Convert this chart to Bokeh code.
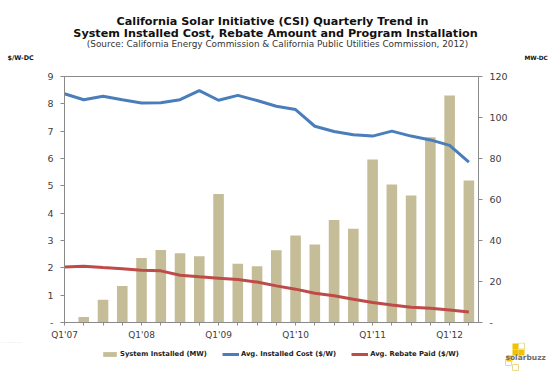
from bokeh.plotting import figure
from bokeh.layouts import column
from bokeh.models import (Range1d, LinearAxis, FixedTicker, Label, Legend, LegendItem,
                          ColumnDataSource)
from bokeh.embed import file_html
from bokeh.resources import INLINE

quarters = ["Q1'07", "Q2'07", "Q3'07", "Q4'07", "Q1'08", "Q2'08", "Q3'08", "Q4'08",
            "Q1'09", "Q2'09", "Q3'09", "Q4'09", "Q1'10", "Q2'10", "Q3'10", "Q4'10",
            "Q1'11", "Q2'11", "Q3'11", "Q4'11", "Q1'12", "Q2'12"]
system_installed_mw = [0, 2.7, 11.1, 17.8, 31.5, 35.4, 33.8, 32.3, 62.7, 28.7, 27.4, 35.3,
                       42.4, 38.0, 50.0, 45.7, 79.5, 67.3, 62.0, 90.4, 110.7, 69.3]
avg_installed_cost = [8.37, 8.15, 8.28, 8.15, 8.03, 8.04, 8.15, 8.48, 8.13, 8.31, 8.12, 7.91,
                      7.79, 7.18, 6.99, 6.87, 6.82, 7.00, 6.82, 6.68, 6.48, 5.87]
avg_rebate_paid = [2.03, 2.06, 2.01, 1.97, 1.91, 1.89, 1.73, 1.67, 1.62, 1.57, 1.48, 1.34,
                   1.22, 1.07, 0.98, 0.85, 0.73, 0.64, 0.56, 0.52, 0.46, 0.38]
left_ticks = [0, 1, 2, 3, 4, 5, 6, 7, 8, 9]
right_ticks = [0, 20, 40, 60, 80, 100, 120]
series_names = ["System Installed (MW)", "Avg. Installed Cost ($/W)", "Avg. Rebate Paid ($/W)"]

idx = list(range(len(quarters)))
src = ColumnDataSource(dict(x=idx, q=quarters, mw=system_installed_mw,
                            cost=avg_installed_cost, rebate=avg_rebate_paid))

FONT = "DejaVu Sans"
AXIS_COLOR = "#8a8a8a"
LABEL_COLOR = "#404040"
BAR_COLOR = "#c4bd97"
BLUE = "#4a7ebb"
RED = "#be4b48"

def blank(width, height, x0, x1, y0, y1):
    f = figure(width=width, height=height, output_backend="svg", toolbar_location=None,
               title=None, x_range=Range1d(x0, x1), y_range=Range1d(y0, y1),
               x_axis_type=None, y_axis_type=None, min_border=0, frame_align=False)
    f.xgrid.visible = False
    f.ygrid.visible = False
    f.outline_line_color = None
    return f

def lab(fig, text, x, y, size, style="bold", align="center", color="#111111"):
    fig.add_layout(Label(x=x, y=y, text=text, text_font=FONT, text_font_size=size,
                         text_font_style=style, text_align=align, text_baseline="middle",
                         text_color=color))

# ---------- header (page rows 0-68, page coordinates) ----------
head = blank(555, 68, 0, 555, 68, 0)
lab(head, "California Solar Initiative (CSI) Quarterly Trend in", 272, 21, "11.2px")
lab(head, "System Installed Cost, Rebate Amount and Program Installation", 275, 33, "11.2px")
lab(head, "(Source: California Energy Commission & California Public Utilities Commission, 2012)",
    277, 43.5, "8.9px", style="normal", color="#333333")
lab(head, "$/W-DC", 7, 57, "6.4px", align="left")
lab(head, "MW-DC", 524, 57, "5.8px", align="left")

# ---------- main chart (page rows 68-340) ----------
p = figure(frame_width=414, frame_height=246, output_backend="svg", toolbar_location=None,
           title=None, x_range=Range1d(0, 21.5), y_range=Range1d(0, 9),
           min_border_left=64, min_border_right=77, min_border_top=8, min_border_bottom=18,
           x_axis_type=None, y_axis_type=None, frame_align=False)
p.extra_y_ranges = {"mw": Range1d(0, 120)}
p.xgrid.visible = False
p.ygrid.visible = False
p.outline_line_color = AXIS_COLOR

def style_axis(ax, tick_out, standoff):
    ax.axis_line_color = AXIS_COLOR
    ax.major_tick_line_color = AXIS_COLOR
    ax.major_tick_out = tick_out
    ax.major_tick_in = 0
    ax.minor_tick_line_color = None
    ax.major_label_text_font = FONT
    ax.major_label_text_font_size = "9.5px"
    ax.major_label_text_color = LABEL_COLOR
    ax.major_label_standoff = standoff

xax = LinearAxis(ticker=FixedTicker(ticks=idx),
                 major_label_overrides={i: (quarters[i] if i % 4 == 0 else "") for i in idx})
style_axis(xax, 3, 4)
xax.major_label_text_font_size = "9px"
p.add_layout(xax, "below")

lax = LinearAxis(ticker=FixedTicker(ticks=left_ticks), major_label_overrides={0: "-"})
style_axis(lax, 4, 7)
p.add_layout(lax, "left")

rax = LinearAxis(y_range_name="mw", ticker=FixedTicker(ticks=right_ticks),
                 major_label_overrides={0: "-"})
style_axis(rax, 4, 7)
p.add_layout(rax, "right")

p.vbar(x="x", top="mw", width=0.55, source=src, y_range_name="mw",
       fill_color=BAR_COLOR, line_color=None)
p.line(x="x", y="cost", source=src, line_color=BLUE, line_width=3)
p.line(x="x", y="rebate", source=src, line_color=RED, line_width=3)

# ---------- footer: legend + logo (page rows 340-378, page coordinates) ----------
foot = blank(555, 38, 0, 555, 378, 340)
# legend swatch renderers (their data lie outside this strip's view, only styles are used)
r_bar = foot.vbar(x="x", top="mw", width=0.55, source=src, fill_color=BAR_COLOR, line_color=None)
r_blue = foot.line(x="x", y="cost", source=src, line_color=BLUE, line_width=3)
r_red = foot.line(x="x", y="rebate", source=src, line_color=RED, line_width=3)
legend = Legend(items=[LegendItem(label=series_names[0], renderers=[r_bar]),
                       LegendItem(label=series_names[1], renderers=[r_blue]),
                       LegendItem(label=series_names[2], renderers=[r_red])],
                orientation="horizontal", location=(101, 22),
                glyph_width=17, glyph_height=6, label_standoff=2, spacing=15,
                padding=0, margin=0, border_line_color=None, background_fill_alpha=0,
                label_text_font=FONT, label_text_font_size="6.8px",
                label_text_font_style="bold", label_text_color="#222222",
                label_height=8)
foot.add_layout(legend, "center")

sq_l = [512, 512, 518, 506]
sq_t = [341, 347, 347, 353]
foot.quad(left=sq_l, right=[v + 6 for v in sq_l], top=sq_t, bottom=[v + 6 for v in sq_t],
          fill_color="#f2c200", line_color=None)
oq_l = [518, 505, 512]
oq_t = [340.5, 357, 362]
foot.quad(left=oq_l, right=[v + 6 for v in oq_l], top=oq_t, bottom=[v + 6 for v in oq_t],
          fill_color=None, line_color="#eadb8c", line_width=1)
lab(foot, "solarbuzz", 505, 355, "7.5px", align="left", color="#6e6e6e")

layout = column(head, p, foot)
open("out.html", "w").write(file_html(layout, INLINE))
